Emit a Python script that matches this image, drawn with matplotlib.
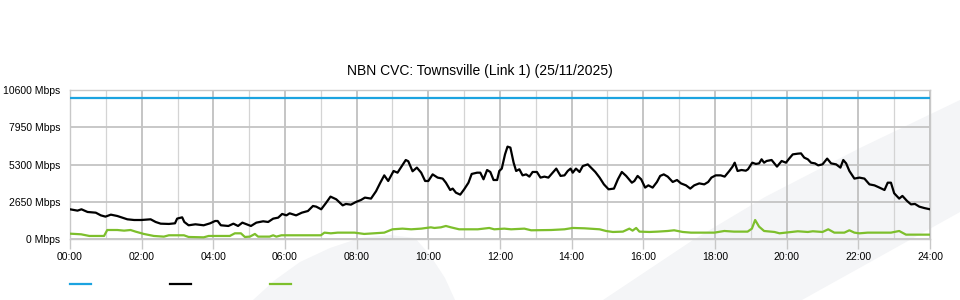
"""NBN CVC utilisation chart for Townsville (Link 1), 25/11/2025."""

import numpy as np
import matplotlib
matplotlib.use("Agg")
import matplotlib.pyplot as plt
from matplotlib.patches import Polygon

plt.rcParams['font.family'] = ['Liberation Sans', 'DejaVu Sans']

TITLE = "NBN CVC: Townsville (Link 1) (25/11/2025)"

# capacity line (Mbps)
cap_hours = [0.0, 24.0]
cap_mbps = [10000, 10000]

# traffic (black), hours since midnight
traffic_hours = [
    0.00, 0.21, 0.32, 0.49, 0.72, 0.86, 0.99, 1.14, 1.32, 1.46, 1.60, 1.79,
    1.99, 2.25, 2.39, 2.53, 2.76, 2.93, 2.99, 3.13, 3.19, 3.31, 3.50, 3.73,
    3.91, 4.05, 4.12, 4.21, 4.42, 4.56, 4.69, 4.81, 4.93, 5.05, 5.20, 5.39,
    5.53, 5.67, 5.81, 5.92, 6.04, 6.13, 6.31, 6.47, 6.64, 6.78, 6.87, 7.01,
    7.15, 7.27, 7.43, 7.61, 7.70, 7.84, 7.98, 8.12, 8.23, 8.40, 8.54, 8.66,
    8.77, 8.88, 9.03, 9.14, 9.26, 9.37, 9.44, 9.56, 9.68, 9.80, 9.91, 10.00,
    10.12, 10.26, 10.40, 10.49, 10.61, 10.68, 10.77, 10.89, 11.00, 11.12,
    11.21, 11.36, 11.45, 11.54, 11.64, 11.73, 11.82, 11.92, 11.98, 12.05,
    12.14, 12.21, 12.29, 12.38, 12.45, 12.54, 12.63, 12.73, 12.82, 12.91,
    13.03, 13.13, 13.24, 13.35, 13.47, 13.57, 13.69, 13.80, 13.89, 13.97,
    14.03, 14.12, 14.22, 14.31, 14.45, 14.54, 14.66, 14.78, 14.90, 15.03,
    15.18, 15.29, 15.40, 15.52, 15.68, 15.75, 15.84, 15.94, 16.05, 16.14,
    16.26, 16.38, 16.47, 16.57, 16.68, 16.82, 16.94, 17.05, 17.19, 17.31,
    17.42, 17.56, 17.70, 17.81, 17.90, 18.02, 18.16, 18.27, 18.40, 18.49,
    18.55, 18.63, 18.74, 18.86, 18.92, 19.04, 19.14, 19.23, 19.30, 19.37,
    19.44, 19.58, 19.73, 19.86, 19.98, 20.07, 20.17, 20.31, 20.40, 20.49,
    20.59, 20.68, 20.79, 20.88, 21.00, 21.13, 21.24, 21.38, 21.50, 21.58,
    21.66, 21.75, 21.89, 22.03, 22.17, 22.31, 22.45, 22.59, 22.73, 22.82,
    22.91, 23.00, 23.14, 23.23, 23.36, 23.47, 23.58, 23.70, 23.84, 24.00,
]
traffic_mbps = [
    2130, 2035, 2130, 1940, 1890, 1700, 1610, 1750, 1655, 1540, 1420, 1370,
    1370, 1420, 1230, 1110, 1090, 1135, 1470, 1560, 1230, 995, 1065, 995,
    1135, 1300, 1300, 995, 946, 1110, 946, 1183, 1065, 946, 1183, 1278,
    1230, 1467, 1538, 1800, 1700, 1845, 1700, 1890, 2010, 2365, 2320, 2130,
    2600, 3030, 2840, 2410, 2510, 2460, 2650, 2790, 2960, 2890, 3410, 4020,
    4540, 4140, 4850, 4730, 5200, 5630, 5540, 4830, 5090, 4730, 4140, 4140,
    4610, 4380, 4310, 4020, 3500, 3600, 3310, 3170, 3550, 4020,
    4640, 4730, 4730, 4260, 4920, 4780, 4210, 4210, 4850, 5020,
    6030, 6580, 6510, 5440, 4850, 4970, 4540, 4610, 4450, 4780,
    4780, 4380, 4450, 4380, 4730, 5020, 4500, 4540, 4850, 5020,
    4730, 5020, 4780, 5200, 5320, 5090, 4780, 4380, 3900, 3550,
    3600, 4260, 4780, 4500, 4020, 4140, 4500, 4260, 3670, 3830,
    3670, 4070, 4500, 4610, 4450, 4070, 4210, 3970, 3830, 3600,
    3830, 3970, 3900, 4070, 4380, 4540, 4540, 4450, 4850, 5160,
    5440, 4850, 4920, 4870, 4970, 5440, 5350, 5390, 5680, 5440,
    5560, 5630, 5160, 5560, 5440, 5730, 6030, 6080, 6100, 5800,
    5680, 5440, 5390, 5250, 5320, 5730, 5390, 5320, 5090, 5630,
    5390, 4850, 4310, 4380, 4310, 3900, 3830, 3670, 3500, 4020,
    4020, 3270, 2890, 3080, 2720, 2480, 2510, 2320, 2220, 2130,
]

# second traffic series (green)
green_hours = [
    0.00, 0.31, 0.54, 0.95, 1.04, 1.32, 1.51, 1.69, 1.83, 2.06, 2.34, 2.62,
    2.76, 3.18, 3.31, 3.73, 3.87, 4.05, 4.46, 4.60, 4.77, 4.88, 5.02, 5.16,
    5.25, 5.57, 5.67, 5.76, 5.90, 7.00, 7.10, 7.28, 7.47, 7.94, 8.21, 8.77,
    9.00, 9.28, 9.52, 9.80, 10.07, 10.17, 10.35, 10.49, 10.63, 10.86, 11.38,
    11.70, 11.84, 12.12, 12.31, 12.68, 12.87, 13.43, 13.80, 14.03, 14.36,
    14.78, 14.96, 15.15, 15.43, 15.61, 15.70, 15.80, 15.89, 16.17, 16.40,
    16.68, 16.86, 17.10, 17.33, 17.98, 18.26, 18.53, 18.91, 19.03, 19.12,
    19.23, 19.37, 19.66, 19.80, 20.31, 20.59, 20.73, 21.00, 21.16, 21.33,
    21.61, 21.75, 21.89, 22.03, 22.26, 22.91, 23.14, 23.33, 24.00,
]
green_mbps = [
    400, 355, 237, 237, 660, 660, 615, 660, 545, 380, 237, 190,
    285, 285, 165, 140, 237, 237, 237, 425, 425, 165, 190, 380,
    190, 190, 285, 190, 285, 285, 473, 425, 473, 473, 380, 473,
    710, 757, 710, 757, 850, 805, 850, 946, 850, 710, 710,
    805, 710, 757, 710, 757, 640, 660, 710, 805, 780,
    710, 590, 520, 545, 757, 615, 805, 545, 520, 545,
    590, 640, 520, 473, 473, 590, 545, 545, 757, 1370,
    900, 590, 520, 425, 570, 520, 570, 520, 710, 473,
    473, 640, 473, 425, 473, 473, 590, 330, 330,
]

y_ticks = [0, 2650, 5300, 7950, 10600]
x_ticks = list(range(0, 25, 2))

BLUE = "#1ba3e0"
GREEN = "#7dbf2c"
GRID = "#c8c8c8"
WATERMARK = "#f4f5f7"

W, H = 960, 300


def px(points):
    # pixel coords (origin top-left) -> figure fraction
    return [(x / W, 1 - y / H) for x, y in points]


fig = plt.figure(figsize=(9.6, 3.0), dpi=100)
fig.patch.set_facecolor("white")

# faint background swooshes
band = [(603, 300), (693, 240), (765, 197), (860, 148), (960, 100),
        (960, 212), (802, 300)]
leaf = [(253, 300), (275, 280), (300, 262), (330, 248), (360, 238),
        (390, 235), (415, 238), (430, 255), (445, 278), (455, 300)]
for shape in (band, leaf):
    fig.add_artist(Polygon(px(shape), closed=True, transform=fig.transFigure,
                           facecolor=WATERMARK, edgecolor="none", zorder=-1))

ax = fig.add_axes([70 / W, 1 - 239.3 / H, 860 / W, 149.3 / H])
ax.set_facecolor("none")

ax.plot(cap_hours, cap_mbps, color=BLUE, linewidth=1.6, zorder=3)
ax.plot(traffic_hours, traffic_mbps, color="black", linewidth=1.6, zorder=4)
ax.plot(green_hours, green_mbps, color=GREEN, linewidth=1.6, zorder=3)

ax.set_xlim(0, 24)
ax.set_ylim(0, 10600)
ax.set_xticks(x_ticks)
ax.set_xticklabels([f"{h:02d}:00" for h in x_ticks], fontsize=7.5)
ax.set_xticks(range(0, 25), minor=True)
ax.set_yticks(y_ticks)
ax.set_yticklabels([f"{v} Mbps" for v in y_ticks], fontsize=7.5)

ax.tick_params(axis="x", which="major", direction="out", length=7.5,
               width=1, color=GRID, pad=1.5)
ax.tick_params(axis="x", which="minor", length=0)
ax.tick_params(axis="y", length=0, pad=7)

ax.grid(True, axis="x", which="major", color="#c0c0c0", linewidth=1.3)
ax.grid(True, axis="x", which="minor", color="#d4d4d4", linewidth=0.9)
ax.grid(True, axis="y", which="major", color="#c4c4c4", linewidth=1.3)
for side in ax.spines.values():
    side.set_color(GRID)
    side.set_linewidth(1.0)

fig.text(0.5, 1 - 71 / H, TITLE, ha="center", va="center", fontsize=10)

# legend swatches only, no labels
handles = [plt.Line2D([], [], color=c, linewidth=1.6)
           for c in (BLUE, "black", GREEN)]
fig.legend(handles, ["", "", ""], loc="center left",
           bbox_to_anchor=(70 / W, 1 - 285 / H), ncol=3, frameon=False,
           fontsize=7.5, handlelength=2.0, handletextpad=0.0,
           columnspacing=7.6, borderpad=0.0, borderaxespad=0.0)

fig.savefig("out.png", dpi=100, facecolor="white")
